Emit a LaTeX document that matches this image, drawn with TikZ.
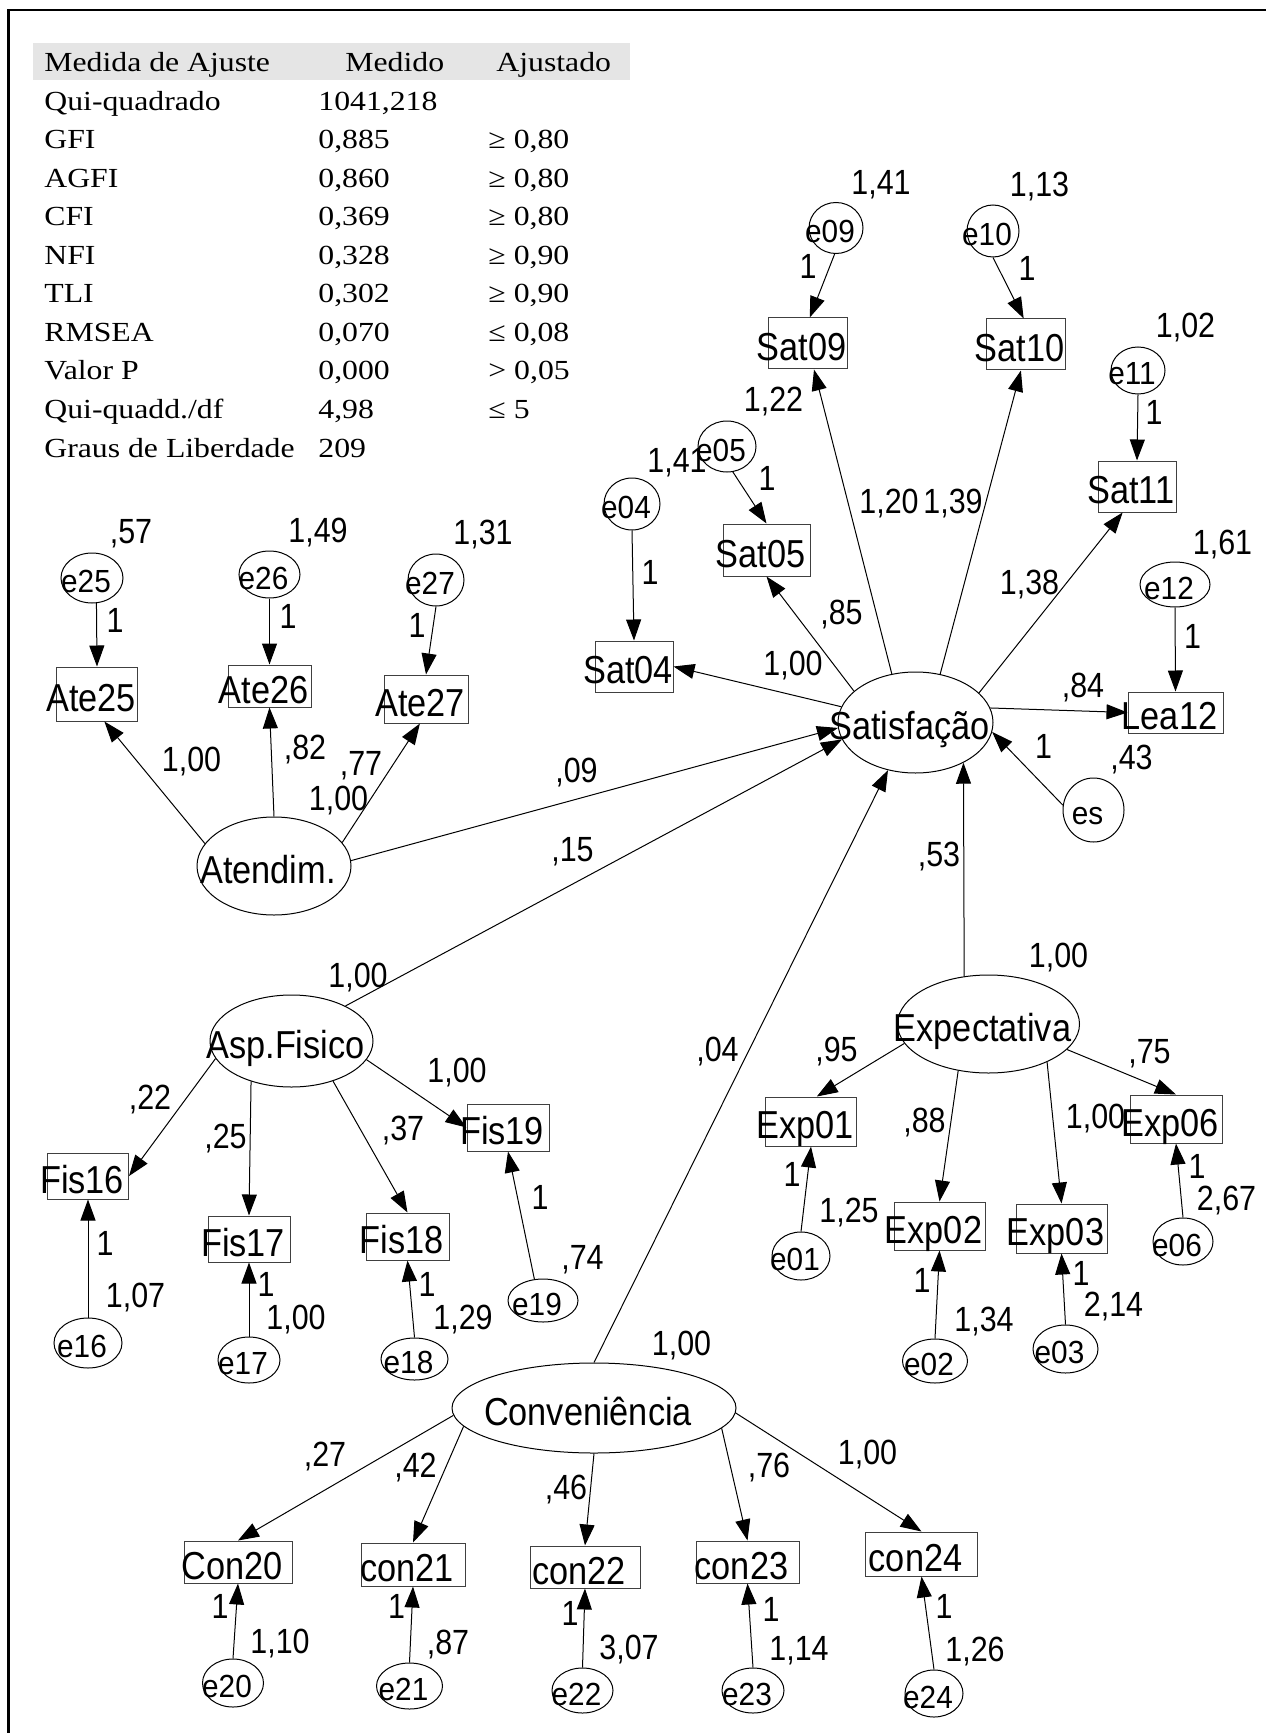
\documentclass[tikz,border=0pt]{standalone}
\usepackage{fontspec}
\usetikzlibrary{shapes.geometric,arrows.meta}
\newfontfamily\namefont[FakeStretch=0.88]{Liberation Sans}
\newfontfamily\numfont[FakeStretch=0.87]{Liberation Sans}
\newfontfamily\errfont[FakeStretch=0.93]{Liberation Sans}
\newfontfamily\tablefont[FakeStretch=1.15]{Liberation Serif}

\begin{document}
\begin{tikzpicture}[x=0.5pt,y=-0.5pt,
  latent/.style 2 args={draw, line width=0.5pt, ellipse, inner sep=0pt,
    minimum width=#1*0.5pt, minimum height=#2*0.5pt},
  obs/.style 2 args={draw=black!75, line width=0.5pt, rectangle, inner sep=0pt,
    minimum width=#1*0.5pt, minimum height=#2*0.5pt},
  err/.style 2 args={draw, line width=0.5pt, ellipse, inner sep=0pt,
    minimum width=#1*0.5pt, minimum height=#2*0.5pt},
  nm/.style={font=\namefont\fontsize{19.5}{21}\selectfont, inner sep=0pt,
    text height=14pt, text depth=0pt, xshift=-3pt, yshift=-1.5pt},
  et/.style={font=\errfont\fontsize{16}{18}\selectfont, inner sep=0pt,
    text height=11.5pt, text depth=0pt, xshift=-3pt, yshift=-1.5pt},
  num/.style={font=\numfont\fontsize{17.5}{19}\selectfont, inner sep=0pt,
    text height=12.5pt, text depth=0pt},
  tab/.style={font=\tablefont\fontsize{13.8}{16}\selectfont, inner sep=0pt, anchor=base west},
  arr/.style={line width=0.5pt, -{Triangle[length=10.5pt,width=7.5pt]}},
]
\useasboundingbox (0,0) rectangle (1266,1733);

% frame
\draw[line width=1.2pt] (8.5,1733) -- (8.5,10) -- (1266,10);

% fit table
\fill[black!10] (32.7,43) rectangle (630,80);
\node[tab] (h1) at (44,71.7) {Medida de Ajuste};
\node[tab] (h2) at (345,71.7) {Medido};
\node[tab] (h3) at (496,71.7) {Ajustado};
\foreach \a/\b/\c [count=\i] in {
  {Qui-quadrado}/{1041,218}/{},
  {GFI}/{0,885}/{≥ 0,80},
  {AGFI}/{0,860}/{≥ 0,80},
  {CFI}/{0,369}/{≥ 0,80},
  {NFI}/{0,328}/{≥ 0,90},
  {TLI}/{0,302}/{≥ 0,90},
  {RMSEA}/{0,070}/{≤ 0,08},
  {Valor P}/{0,000}/{> 0,05},
  {Qui-quadd./df}/{4,98}/{≤ 5},
  {Graus de Liberdade}/{209}/{}}{
  \node[tab] (ra\i) at (44,71.7+38.53*\i) {\a};
  \node[tab] (rb\i) at (318,71.7+38.53*\i) {\b};
  \node[tab] (rc\i) at (488,71.7+38.53*\i) {\c};
}

% latent variables
\node[latent={155}{101}, label={[nm]center:Satisfação}] (sat) at (915.5,722.5) {};
\node[latent={154}{98}, label={[nm]center:Atendim.}] (aten) at (274,866) {};
\node[latent={163}{92}, label={[nm]center:Asp.Fisico}] (asp) at (291.5,1041) {};
\node[latent={182}{98}, label={[nm]center:Expectativa}] (expect) at (988.5,1024) {};
\node[latent={284}{90}, label={[nm]center:Conveniência}] (conv) at (594,1408) {};

% observed variables
\node[obs={79}{51}, label={[nm]center:Sat09}] (sat09) at (807.5,343.5) {};
\node[obs={79}{51}, label={[nm]center:Sat10}] (sat10) at (1025.5,344.5) {};
\node[obs={78}{51}, label={[nm]center:Sat11}] (sat11) at (1137,486.5) {};
\node[obs={87}{52}, label={[nm]center:Sat05}] (sat05) at (766.5,550) {};
\node[obs={78}{51}, label={[nm]center:Sat04}] (sat04) at (634,666.5) {};
\node[obs={95}{41}, label={[nm]center:Lea12}] (lea12) at (1175.5,712.5) {};
\node[obs={81}{54}, label={[nm]center:Ate25}] (ate25) at (97,694) {};
\node[obs={83}{42}, label={[nm]center:Ate26}] (ate26) at (269.5,686) {};
\node[obs={84}{48}, label={[nm]center:Ate27}] (ate27) at (426,699) {};
\node[obs={81}{46}, label={[nm]center:Fis16}] (fis16) at (88,1176) {};
\node[obs={82}{46}, label={[nm]center:Fis17}] (fis17) at (249,1239) {};
\node[obs={83}{47}, label={[nm]center:Fis18}] (fis18) at (407.5,1236.5) {};
\node[obs={82}{47}, label={[nm]center:Fis19}] (fis19) at (508,1127.5) {};
\node[obs={91}{49}, label={[nm]center:Exp01}] (exp01) at (811,1121.5) {};
\node[obs={91}{48}, label={[nm]center:Exp02}] (exp02) at (939.5,1226) {};
\node[obs={91}{49}, label={[nm]center:Exp03}] (exp03) at (1061.5,1228.5) {};
\node[obs={92}{48}, label={[nm]center:Exp06}] (exp06) at (1176,1119) {};
\node[obs={108}{42}, label={[nm]center:Con20}] (con20) at (238,1562) {};
\node[obs={104}{43}, label={[nm]center:con21}] (con21) at (413,1564.5) {};
\node[obs={110}{42}, label={[nm]center:con22}] (con22) at (585,1567) {};
\node[obs={103}{42}, label={[nm]center:con23}] (con23) at (747.5,1562) {};
\node[obs={112}{44}, label={[nm]center:con24}] (con24) at (921.5,1554) {};

% error terms
\node[err={54}{51}, label={[et]center:e09}] (e09) at (836,228) {};
\node[err={52}{52}, label={[et]center:e10}] (e10) at (993,231) {};
\node[err={54}{47}, label={[et]center:e11}] (e11) at (1138,370.5) {};
\node[err={58}{51}, label={[et]center:e05}] (e05) at (727,446.5) {};
\node[err={56}{52}, label={[et]center:e04}] (e04) at (632,504) {};
\node[err={70}{45}, label={[et]center:e12}] (e12) at (1175,584.5) {};
\node[err={61}{64}, label={[et]center:es}] (es) at (1093.5,810) {};
\node[err={62}{50}, label={[et]center:e25}] (e25) at (92,578) {};
\node[err={61}{47}, label={[et]center:e26}] (e26) at (269.5,574.5) {};
\node[err={56}{52}, label={[et]center:e27}] (e27) at (436,580) {};
\node[err={68}{50}, label={[et]center:e16}] (e16) at (88,1343) {};
\node[err={62}{46}, label={[et]center:e17}] (e17) at (249,1360) {};
\node[err={67}{42}, label={[et]center:e18}] (e18) at (414.5,1359) {};
\node[err={70}{43}, label={[et]center:e19}] (e19) at (543,1300.5) {};
\node[err={58}{48}, label={[et]center:e01}] (e01) at (801,1256) {};
\node[err={65}{44}, label={[et]center:e02}] (e02) at (935,1361) {};
\node[err={65}{48}, label={[et]center:e03}] (e03) at (1065.5,1349) {};
\node[err={60}{47}, label={[et]center:e06}] (e06) at (1183,1241.5) {};
\node[err={61}{48}, label={[et]center:e20}] (e20) at (233,1683) {};
\node[err={66}{46}, label={[et]center:e21}] (e21) at (409.5,1686) {};
\node[err={61}{45}, label={[et]center:e22}] (e22) at (582.5,1690.5) {};
\node[err={62}{45}, label={[et]center:e23}] (e23) at (753,1690.5) {};
\node[err={58}{47}, label={[et]center:e24}] (e24) at (934,1693.5) {};

% Satisfação block
\draw[arr] (sat.168.5) -- (sat04.east);
\draw[arr] (sat.153) -- (sat05.south);
\draw[arr] (sat.116) -- (sat09.-76);
\draw[arr] (sat.63) -- (sat10.-100);
\draw[arr] (sat.25) -- (sat11.-119);
\draw[arr] (sat.11) -- (lea12.west);
\draw[arr] (e04.south) -- (sat04.north);
\draw[arr] (e05.-77) -- (sat05.north);
\draw[arr] (e09.-93) -- (sat09.85);
\draw[arr] (e10.south) -- (sat10.94.5);
\draw[arr] (e11.south) -- (sat11.north);
\draw[arr] (e12.south) -- (lea12.north);
\draw[arr] (es.171) -- (sat.-7);

% structural paths
\draw[arr] (aten.4.5) -- (sat.-176);
\draw[arr] (asp.33) -- (sat.-167);
\draw[arr] (conv.north) -- (sat.-120);
\draw[arr] (expect.117.5) -- (sat.-40);

% Atendim. block
\draw[arr] (aten.162) -- (ate25.-75.5);
\draw[arr] (aten.north) -- (ate26.south);
\draw[arr] (aten.19) -- (ate27.-104);
\draw[arr] (e25.-80) -- (ate25.north);
\draw[arr] (e26.south) -- (ate26.north);
\draw[arr] (e27.south) -- (ate27.north);

% Asp.Fisico block
\draw[arr] (asp.-167) -- (fis16.east);
\draw[arr] (asp.-135) -- (fis17.north);
\draw[arr] (asp.-44) -- (fis18.north);
\draw[arr] (asp.-14) -- (fis19.west);
\draw[arr] (e16.north) -- (fis16.south);
\draw[arr] (e17.north) -- (fis17.south);
\draw[arr] (e18.north) -- (fis18.south);
\draw[arr] (e19.112) -- (fis19.south);

% Expectativa block
\draw[arr] (expect.-167) -- (exp01.77);
\draw[arr] (expect.-123.5) -- (exp02.north);
\draw[arr] (expect.-33) -- (exp03.north);
\draw[arr] (expect.-18) -- (exp06.north);
\draw[arr] (e01.north) -- (exp01.south);
\draw[arr] (e02.north) -- (exp02.south);
\draw[arr] (e03.north) -- (exp03.south);
\draw[arr] (e06.north) -- (exp06.south);

% Conveniência block
\draw[arr] (conv.-177) -- (con20.north);
\draw[arr] (conv.-172) -- (con21.north);
\draw[arr] (conv.south) -- (con22.north);
\draw[arr] (conv.-9) -- (con23.north);
\draw[arr] (conv.-2) -- (con24.north);
\draw[arr] (e20.north) -- (con20.south);
\draw[arr] (e21.north) -- (con21.south);
\draw[arr] (e22.north) -- (con22.south);
\draw[arr] (e23.north) -- (con23.south);
\draw[arr] (e24.north) -- (con24.south);

% estimates
\foreach \t/\x/\y [count=\k] in {
  {1,41}/881/182, 1/808/266, {1,13}/1039.5/184.5, 1/1027/268,
  {1,02}/1185.5/325.5, 1/1154/412, {1,22}/773.5/398.5, {1,41}/677/459.5,
  1/767/477.5, 1/650/572, {1,20}/889/501, {1,39}/953/501,
  {1,38}/1029.5/581.5, {1,61}/1222.5/541.5, 1/1192.5/635.5,
  {,85}/841.5/611.5, {1,00}/793/662.5, {,84}/1083/684.5, 1/1043.5/745.5,
  {,43}/1131.5/756.5, {,53}/939/854, {1,00}/1058.5/955,
  {,57}/131/531, {1,49}/318/529.5, {1,31}/483/531.5,
  1/115/619.5, 1/288/616, 1/417/624.5,
  {1,00}/191.5/758.5, {,82}/305/746.5, {,77}/361/762.5, {1,00}/338.5/797.5,
  {,09}/576.5/770, {,15}/572.5/848.5,
  {1,00}/358/975, {,22}/150/1097, {,25}/225.5/1136, {,37}/403/1127.5, {1,00}/457/1070,
  1/105/1242.5, {1,07}/135.5/1295, 1/266/1283.5, {1,00}/296/1316.5,
  1/427/1283.5, {1,29}/463/1316.5, 1/540/1196.5, {,74}/582.5/1256.5,
  {,04}/717.5/1048.5, {,95}/836.5/1048.5, {,75}/1149.5/1050.5,
  {,88}/924.5/1120, {1,00}/1095.5/1115.5,
  1/792/1173.5, {1,25}/849/1210, 1/922/1279.5, {1,34}/984/1318.5,
  1/1081/1272.5, {2,14}/1113.5/1303.5, 1/1197/1165.5, {2,67}/1226.5/1197.5,
  {1,00}/681.5/1342.5, {,27}/325/1454, {,42}/415.5/1465, {,46}/566/1486.5,
  {,76}/769/1465, {1,00}/867.5/1451.5,
  1/220/1605.5, {1,10}/280/1640.5, 1/396.5/1605.5, {,87}/448/1641.5,
  1/570/1612.5, {3,07}/629/1646.5, 1/771/1609, {1,14}/799/1647.5,
  1/944/1605.5, {1,26}/975/1649}{
  \node[num] (v\k) at (\x,\y) {\t};
}
\end{tikzpicture}
\end{document}
